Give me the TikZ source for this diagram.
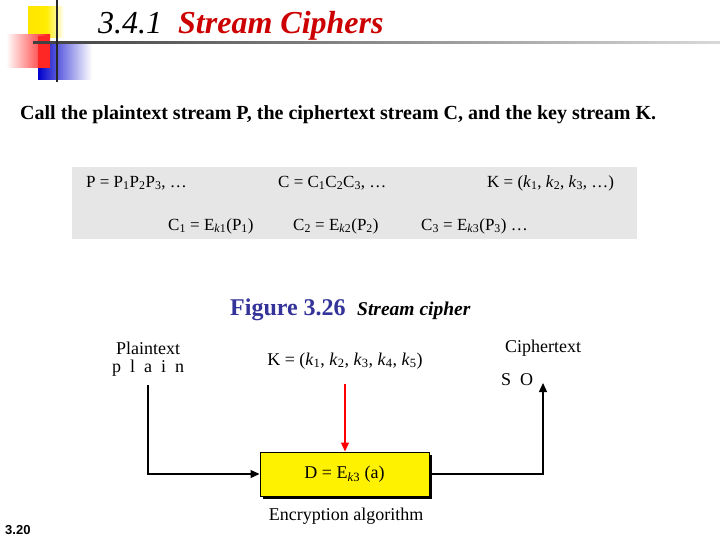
\documentclass[tikz,border=0pt]{standalone}
\usepackage{fontspec}
\setmainfont{Liberation Serif}
\newfontfamily\lsans{Liberation Sans}
\usetikzlibrary{arrows.meta,shadows}
\definecolor{figblue}{RGB}{51,51,153}
\definecolor{boxgrey}{RGB}{230,230,230}
\definecolor{titlered}{RGB}{204,0,0}
\newcommand{\ks}[1]{\textit{k}\textsubscript{#1}}
\newcommand{\sbs}[1]{\textsubscript{#1}}
\tikzset{
  conn/.style={line width=1.3pt,-{Triangle[length=9pt,width=8pt]}},
  keyconn/.style={line width=1.3pt,red,-{Triangle[length=9pt,width=8pt]}},
  mtext/.style={font=\fontsize{17}{19}\selectfont,inner sep=0pt,anchor=west},
  ltext/.style={font=\fontsize{18}{20}\selectfont,inner sep=0pt},
}
\begin{document}
\begin{tikzpicture}[x=1pt,y=-1pt]
\useasboundingbox (0,0) rectangle (720,540);
% decoration
\shade[left color=yellow!80!orange, right color=white, middle color=yellow!85!orange] (28,7) rectangle (64,38);
\shade[left color=blue!80!black, right color=white] (38,43) rectangle (92,80);
\shade[left color=white, right color=red!90] (6,35) rectangle (50,68);
\fill[red!85] (38,36) rectangle (50,68);
\shade[left color=black!75, right color=black!15] (33,42) rectangle (720,44);
\draw[line width=1.5pt,black!85] (57,0) -- (57,82);
% title
\node[anchor=base west,inner sep=0pt,font=\fontsize{32}{34}\selectfont\itshape] (title) at (98,34)
  {3.4.1\ \ \textcolor{titlered}{\bfseries Stream Ciphers}};
\node[anchor=base west,inner sep=0pt,font=\fontsize{20}{22}\selectfont\bfseries] (intro) at (20,120)
  {Call the plaintext stream P, the ciphertext stream C, and the key stream K.};
% grey box
\fill[boxgrey] (72,167) rectangle (637,239);
\node[mtext] (p) at (86,183) {P = P\sbs{1}P\sbs{2}P\sbs{3}, \dots};
\node[mtext] (c) at (278,183) {C = C\sbs{1}C\sbs{2}C\sbs{3}, \dots};
\node[mtext] (k) at (487,183) {K = (\ks{1}, \ks{2}, \ks{3}, \dots)};
\node[mtext] (c1) at (168,226) {C\sbs{1} = E\textsubscript{\textit{k}1}(P\sbs{1})};
\node[mtext] (c2) at (293,226) {C\sbs{2} = E\textsubscript{\textit{k}2}(P\sbs{2})};
\node[mtext] (c3) at (421,226) {C\sbs{3} = E\textsubscript{\textit{k}3}(P\sbs{3}) \dots};
% figure caption
\node[anchor=base west,inner sep=0pt,font=\fontsize{24}{26}\selectfont\bfseries,text=figblue] (fig) at (230,315) {Figure 3.26};
\node[anchor=base west,inner sep=0pt,font=\fontsize{19.5}{21}\selectfont\bfseries\itshape] (figt) at (357,315) {Stream cipher};
% diagram
\node[ltext] (pt) at (148,348) {Plaintext};
\node[ltext] (plain) at (148,368) {p\ \ l\ \ a\ \ i\ \ n};
\node[ltext] (key) at (345,361) {K = (\ks{1}, \ks{2}, \ks{3}, \ks{4}, \ks{5})};
\node[ltext] (ct) at (543,348) {Ciphertext};
\node[ltext,anchor=west] (so) at (501,380) {S\ \ O};
\node[draw=black,line width=1pt,fill=yellow,minimum width=169pt,minimum height=44pt,
  drop shadow={shadow xshift=3pt,shadow yshift=-3pt,opacity=1,fill=black},
  font=\fontsize{18}{20}\selectfont] (enc) at (344.5,474) {D = E\textsubscript{\textit{k}3} (a)};
\node[ltext] (encl) at (346,516) {Encryption algorithm};
\coordinate (pstart) at (148,385);
\coordinate (kstart) at (345,384);
\coordinate (cend) at (543,383);
\draw[conn] (pstart) |- (enc.west);
\draw[keyconn] (kstart) -- (kstart |- enc.north);
\draw[conn] (enc.east) -| (cend);
\node[anchor=base west,inner sep=0pt,font=\lsans\bfseries\fontsize{13}{15}\selectfont] (num) at (5,534) {3.20};
\end{tikzpicture}
\end{document}
